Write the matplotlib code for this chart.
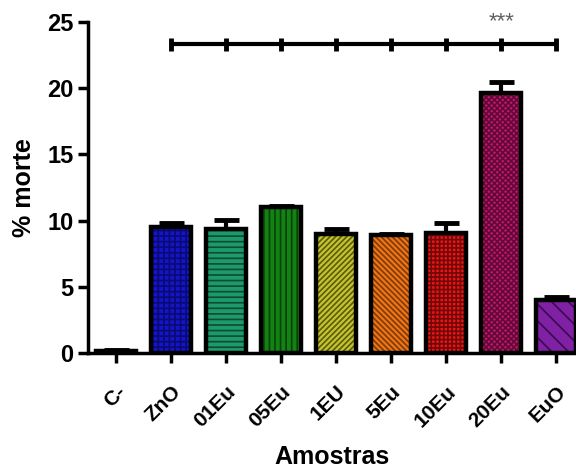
import numpy as np
import matplotlib
matplotlib.use("Agg")
import matplotlib.pyplot as plt

# data
samples = ['C-', 'ZnO', '01Eu', '05Eu', '1EU', '5Eu', '10Eu', '20Eu', 'EuO']
morte   = [0.15, 9.5, 9.35, 11.0, 8.95, 8.9, 9.05, 19.6, 4.0]
err     = [0.1, 0.3, 0.7, 0.1, 0.4, 0.1, 0.8, 0.9, 0.2]
colors  = ['#000000', '#1414c8', '#1c9a6c', '#128212', '#c4c42c',
           '#f07414', '#f01414', '#c4146e', '#8020a4']
hatch_c = ['#000000', '#0a0a70', '#0e4a34', '#0a400a', '#5a5a10',
           '#7a3a0a', '#700a0a', '#600a36', '#3a0a50']
hatches = ['', '+++', '---', '|||', '//////', '\\\\\\\\\\\\', '++++', 'xxxxxx', '\\\\']
sig_y = 23.3
sig_label = '***'

plt.rcParams['font.family'] = ['Liberation Sans', 'DejaVu Sans']
plt.rcParams['font.weight'] = 'bold'
plt.rcParams['hatch.linewidth'] = 1.2

fig = plt.figure(figsize=(5.76, 4.68), dpi=100)
ax = fig.add_axes([0.153, 0.246, 0.847, 0.707])

x = np.arange(len(samples))
w = 0.72

ax.errorbar(x, morte, yerr=[np.zeros(len(err)), err], fmt='none',
            ecolor='black', elinewidth=3, capsize=9, capthick=3.5, zorder=1)
for i in range(len(samples)):
    ax.bar(x[i], morte[i], w, color=colors[i], edgecolor=hatch_c[i],
           hatch=hatches[i], linewidth=0, zorder=2)
ax.bar(x, morte, w, fill=False, edgecolor='black', linewidth=3.2, zorder=3)

# significance bar
ax.plot([x[1], x[-1]], [sig_y, sig_y], color='black', lw=3, zorder=4,
        solid_capstyle='butt')
for xi in x[1:]:
    ax.plot([xi, xi], [sig_y - 0.5, sig_y + 0.5], color='black', lw=3.5,
            zorder=4, solid_capstyle='butt')
ax.text(x[7], 24.2, sig_label, ha='center', va='bottom', fontsize=16,
        color='#606060', fontweight='normal', clip_on=False)

ax.set_xlim(-0.51, 8.36)
ax.set_ylim(0, 25)
ax.set_yticks([0, 5, 10, 15, 20, 25])
ax.set_xticks(x)
ax.set_xticklabels(samples, rotation=45, ha='right', rotation_mode='anchor',
                   fontsize=15, fontweight='bold')
ax.tick_params(axis='y', labelsize=17, width=2.5, length=7, direction='out')
ax.tick_params(axis='x', width=2.5, length=7, direction='out', pad=14)
for lab in ax.get_yticklabels():
    lab.set_fontweight('bold')

for s in ['top', 'right']:
    ax.spines[s].set_visible(False)
for s in ['left', 'bottom']:
    ax.spines[s].set_linewidth(2.5)

ax.set_ylabel('% morte', fontsize=18, fontweight='bold', labelpad=8)
ax.set_xlabel('Amostras', fontsize=18, fontweight='bold', labelpad=10)

fig.savefig('out.png', dpi=100)
